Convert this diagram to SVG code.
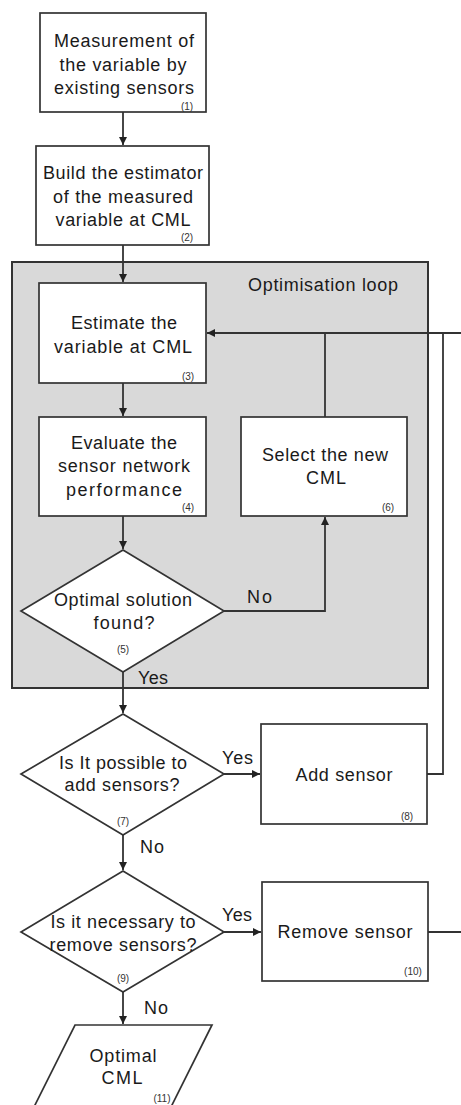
<svg xmlns="http://www.w3.org/2000/svg" width="461" height="1105" viewBox="0 0 461 1105">
  <style>
    .box { fill: #ffffff; stroke: #333333; stroke-width: 1.7; }
    .loop { fill: #d9d9d9; stroke: #333333; stroke-width: 2; }
    .t { font-family: "Liberation Sans", Arial, sans-serif; font-size: 18px; fill: #1a1a1a; text-anchor: middle; }
    .tl { font-family: "Liberation Sans", Arial, sans-serif; font-size: 18px; fill: #1a1a1a; }
    .n { font-family: "Liberation Sans", Arial, sans-serif; font-size: 10px; fill: #333333; text-anchor: middle; }
    .c { fill: none; stroke: #333333; stroke-width: 1.8; }
  </style>
  <defs>
    <marker id="arr" viewBox="0 0 10 10" refX="10" refY="5" markerWidth="8" markerHeight="8" markerUnits="userSpaceOnUse" orient="auto">
      <path d="M0,0 L10,5 L0,10 z" fill="#222222"/>
    </marker>
  </defs>
  <rect width="461" height="1105" fill="#ffffff"/>

  <!-- optimisation loop container -->
  <g id="optimisation-loop">
    <rect class="loop" x="12" y="262" width="416" height="426"/>
    <text class="tl" x="248" y="291" textLength="150" lengthAdjust="spacing">Optimisation loop</text>
  </g>

  <!-- connectors -->
  <g id="connectors">
    <path class="c" d="M123,112 V145" marker-end="url(#arr)"/>
    <path class="c" d="M123,245 V282" marker-end="url(#arr)"/>
    <path class="c" d="M123,383 V416" marker-end="url(#arr)"/>
    <path class="c" d="M123,516 V549" marker-end="url(#arr)"/>
    <path class="c" d="M224,611 H325 V517" marker-end="url(#arr)"/>
    <path class="c" d="M325,417 V333 H207" marker-end="url(#arr)"/>
    <path class="c" d="M427,774 H443 V333 H325"/>
    <path class="c" d="M428,932 H464 V333 H443"/>
    <path class="c" d="M123,672 V713" marker-end="url(#arr)"/>
    <path class="c" d="M224,774 H260" marker-end="url(#arr)"/>
    <path class="c" d="M123,835 V870" marker-end="url(#arr)"/>
    <path class="c" d="M224,932 H261" marker-end="url(#arr)"/>
    <path class="c" d="M123,992 V1024" marker-end="url(#arr)"/>
    <text class="tl" x="247" y="603" textLength="25" lengthAdjust="spacing">No</text>
    <text class="tl" x="138" y="684" textLength="30" lengthAdjust="spacing">Yes</text>
    <text class="tl" x="222" y="764" textLength="31" lengthAdjust="spacing">Yes</text>
    <text class="tl" x="140" y="853" textLength="24" lengthAdjust="spacing">No</text>
    <text class="tl" x="222" y="921" textLength="30" lengthAdjust="spacing">Yes</text>
    <text class="tl" x="144" y="1014" textLength="24" lengthAdjust="spacing">No</text>
  </g>

  <g id="n1">
    <rect class="box" x="40" y="13" width="166" height="99"/>
    <text class="t" x="124" y="47" textLength="140" lengthAdjust="spacing">Measurement of</text>
    <text class="t" x="123" y="71" textLength="127" lengthAdjust="spacing">the variable by</text>
    <text class="t" x="124" y="94" textLength="140" lengthAdjust="spacing">existing sensors</text>
    <text class="n" x="187" y="110">(1)</text>
  </g>

  <g id="n2">
    <rect class="box" x="36" y="146" width="173" height="99"/>
    <text class="t" x="123" y="179" textLength="160" lengthAdjust="spacing">Build the estimator</text>
    <text class="t" x="123" y="203" textLength="140" lengthAdjust="spacing">of the measured</text>
    <text class="t" x="123" y="226" textLength="135" lengthAdjust="spacing">variable at CML</text>
    <text class="n" x="187" y="241">(2)</text>
  </g>

  <g id="n3">
    <rect class="box" x="39" y="283" width="167" height="100"/>
    <text class="t" x="124" y="329" textLength="106" lengthAdjust="spacing">Estimate the</text>
    <text class="t" x="123" y="353" textLength="138" lengthAdjust="spacing">variable at CML</text>
    <text class="n" x="188" y="380">(3)</text>
  </g>

  <g id="n4">
    <rect class="box" x="39" y="417" width="167" height="99"/>
    <text class="t" x="124" y="449" textLength="106" lengthAdjust="spacing">Evaluate the</text>
    <text class="t" x="124" y="472" textLength="132" lengthAdjust="spacing">sensor network</text>
    <text class="t" x="124" y="496" textLength="116" lengthAdjust="spacing">performance</text>
    <text class="n" x="188" y="511">(4)</text>
  </g>

  <g id="n6">
    <rect class="box" x="241" y="417" width="166" height="99"/>
    <text class="t" x="325" y="461" textLength="126" lengthAdjust="spacing">Select the new</text>
    <text class="t" x="326" y="484" textLength="40" lengthAdjust="spacing">CML</text>
    <text class="n" x="388" y="511">(6)</text>
  </g>

  <g id="n5">
    <polygon class="box" points="123,550 224,611 123,672 21,611"/>
    <text class="t" x="123" y="606" textLength="138" lengthAdjust="spacing">Optimal solution</text>
    <text class="t" x="124" y="629" textLength="61" lengthAdjust="spacing">found?</text>
    <text class="n" x="123" y="653">(5)</text>
  </g>

  <g id="n7">
    <polygon class="box" points="123,714 224,774 123,835 21,774"/>
    <text class="t" x="123" y="769" textLength="128" lengthAdjust="spacing">Is It possible to</text>
    <text class="t" x="122" y="791" textLength="115" lengthAdjust="spacing">add sensors?</text>
    <text class="n" x="123" y="825">(7)</text>
  </g>

  <g id="n8">
    <rect class="box" x="261" y="724" width="166" height="100"/>
    <text class="t" x="344" y="781" textLength="97" lengthAdjust="spacing">Add sensor</text>
    <text class="n" x="407" y="820">(8)</text>
  </g>

  <g id="n9">
    <polygon class="box" points="123,871 224,932 123,992 21,932"/>
    <text class="t" x="123" y="928" textLength="145" lengthAdjust="spacing">Is it necessary to</text>
    <text class="t" x="123" y="951" textLength="147" lengthAdjust="spacing">remove sensors?</text>
    <text class="n" x="123" y="982">(9)</text>
  </g>

  <g id="n10">
    <rect class="box" x="262" y="882" width="166" height="99"/>
    <text class="t" x="345" y="938" textLength="135" lengthAdjust="spacing">Remove sensor</text>
    <text class="n" x="413" y="975">(10)</text>
  </g>

  <g id="n11">
    <polygon class="box" points="75,1025 212,1025 162,1125 25,1125"/>
    <text class="t" x="123" y="1062" textLength="67" lengthAdjust="spacing">Optimal</text>
    <text class="t" x="122" y="1084" textLength="41" lengthAdjust="spacing">CML</text>
    <text class="n" x="162" y="1102">(11)</text>
  </g>
</svg>
